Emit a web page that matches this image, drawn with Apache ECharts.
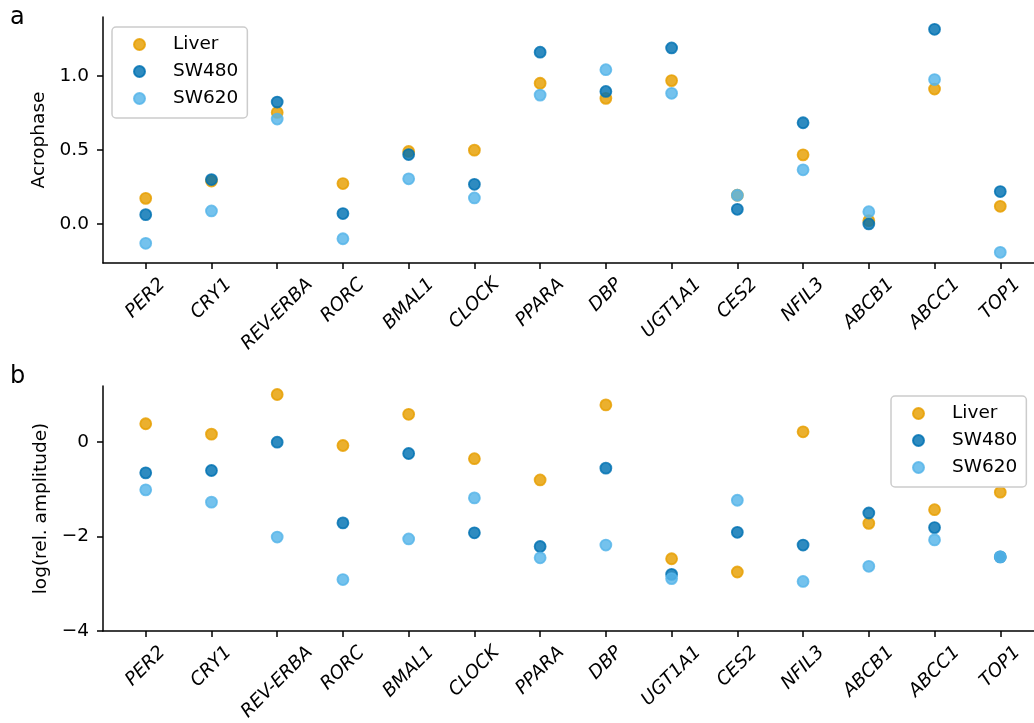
<!DOCTYPE html>
<html>
<head>
<meta charset="utf-8">
<script src="https://cdn.jsdelivr.net/npm/echarts@6/dist/echarts.min.js"></script>
<style>
  html, body { margin: 0; padding: 0; background: #fff; }
  #chart { width: 1034px; height: 723px; }
</style>
</head>
<body>
<div id="chart"></div>
<script>
// Genes shown on both panels
const genes = ['PER2', 'CRY1', 'REV-ERBA', 'RORC', 'BMAL1', 'CLOCK', 'PPARA', 'DBP',
               'UGT1A1', 'CES2', 'NFIL3', 'ABCB1', 'ABCC1', 'TOP1'];
const tissues = ['Liver', 'SW480', 'SW620'];

// Panel a: acrophase
const acroLiver = [0.173, 0.29, 0.754, 0.273, 0.490, 0.499, 0.951, 0.849, 0.969, 0.194, 0.467, 0.022, 0.912, 0.119];
const acroSW480 = [0.063, 0.30, 0.824, 0.070, 0.469, 0.268, 1.161, 0.896, 1.190, 0.099, 0.684, 0.0, 1.316, 0.219];
const acroSW620 = [-0.131, 0.088, 0.709, -0.100, 0.305, 0.176, 0.871, 1.043, 0.883, 0.194, 0.366, 0.083, 0.976, -0.192];

// Panel b: log relative amplitude
const ampLiver = [0.39, 0.17, 1.01, -0.07, 0.59, -0.35, -0.80, 0.79, -2.47, -2.75, 0.22, -1.72, -1.43, -1.06];
const ampSW480 = [-0.65, -0.60, 0.0, -1.71, -0.24, -1.92, -2.21, -0.55, -2.80, -1.91, -2.18, -1.50, -1.81, -2.43];
const ampSW620 = [-1.01, -1.27, -2.01, -2.91, -2.05, -1.18, -2.45, -2.18, -2.89, -1.23, -2.95, -2.63, -2.07, -2.43];

// Tick values
const acroTicks = [0, 0.5, 1.0];
const ampTicks = [-4, -2, 0];

const colors = { Liver: '#E69F00', SW480: '#0072B2', SW620: '#56B4E9' };
const FONT = '"DejaVu Sans", sans-serif';
const FS = 18.5;
const LH = 21.5;

// Plot geometry: categories sit one unit apart with a 0.65 unit margin on each side.
const X_MIN = -0.65, X_MAX = 13.65;
const PLOT_LEFT = 103, PLOT_WIDTH = 940;
const UNIT = PLOT_WIDTH / (X_MAX - X_MIN);
// Label strip: a category axis whose band centres coincide with the integer ticks.
const LABEL_LEFT = PLOT_LEFT + (-0.5 - X_MIN) * UNIT;
const LABEL_WIDTH = genes.length * UNIT;

// Rotated gene labels: each label's box is centred on its tick and hangs
// from a common top line, so longer names sit lower.
const measure = document.createElement('canvas').getContext('2d');
measure.font = 'italic ' + FS + 'px "DejaVu Sans"';
const rich = {};
genes.forEach((g, i) => {
  const w = measure.measureText(g).width;
  const d = (w + LH) / (2 * Math.SQRT2);
  const p = Math.SQRT2 * d;
  rich['g' + i] = {
    padding: [p, p, 0, 0], fontStyle: 'italic', fontSize: FS,
    fontFamily: FONT, lineHeight: LH, color: '#000'
  };
});
const geneIdx = genes.map((_, i) => i);

const minus = s => String(s).replace('-', '\u2212');

function xAxisFor(gridIndex) {
  return {
    type: 'value', gridIndex, min: X_MIN, max: X_MAX,
    splitLine: { show: false },
    axisLine: { onZero: false, lineStyle: { color: '#000', width: 1.5 } },
    axisTick: { customValues: geneIdx, length: 6, lineStyle: { color: '#000', width: 1.5 } },
    axisLabel: { show: false }
  };
}

function labelAxisFor(gridIndex) {
  return {
    type: 'category', gridIndex, data: genes, boundaryGap: true,
    axisLine: { show: false }, axisTick: { show: false }, splitLine: { show: false },
    axisLabel: {
      interval: 0, rotate: 45, align: 'center', verticalAlign: 'middle',
      margin: 11, rich, showMinLabel: true, showMaxLabel: true, hideOverlap: false,
      formatter: (v, i) => '{g' + i + '|' + v + '}'
    }
  };
}

function yAxisFor(gridIndex, min, max, ticks, name, nameGap, fmt) {
  return {
    type: 'value', gridIndex, min, max, name, nameLocation: 'middle', nameGap,
    nameTextStyle: { fontSize: FS, fontFamily: FONT, color: '#000' },
    splitLine: { show: false },
    axisLine: { show: true, onZero: false, lineStyle: { color: '#000', width: 1.5 } },
    axisTick: { show: true, customValues: ticks, length: 6, lineStyle: { color: '#000', width: 1.5 } },
    axisLabel: {
      customValues: ticks, margin: 14, fontSize: FS, fontFamily: FONT, color: '#000',
      showMinLabel: true, showMaxLabel: true, formatter: fmt
    }
  };
}

function hiddenY(gridIndex) {
  return { type: 'value', gridIndex, show: false, min: 0, max: 1 };
}

function scatter(name, values, idx) {
  return {
    name, type: 'scatter', xAxisIndex: idx, yAxisIndex: idx,
    data: values.map((v, i) => [i, v]),
    symbolSize: 11,
    itemStyle: { color: colors[name], borderColor: colors[name], borderWidth: 1.8, opacity: 0.82 },
    emphasis: { disabled: true }
  };
}

function legendAt(left, top) {
  return {
    data: tissues, orient: 'vertical', left, top,
    itemWidth: 11, itemHeight: 11, itemGap: 8, icon: 'circle',
    padding: [8, 9, 10, 21],
    backgroundColor: 'rgba(255,255,255,0.8)', borderColor: '#cccccc', borderWidth: 1.5, borderRadius: 4,
    textStyle: { fontSize: FS, fontFamily: FONT, color: '#000', lineHeight: 15, padding: [0, 0, 0, 23] }
  };
}

const chart = echarts.init(document.getElementById('chart'));
chart.setOption({
  animation: false,
  backgroundColor: '#fff',
  grid: [
    { left: PLOT_LEFT, top: 17, width: PLOT_WIDTH, height: 246, outerBoundsMode: 'none' },
    { left: PLOT_LEFT, top: 386, width: PLOT_WIDTH, height: 245, outerBoundsMode: 'none' },
    { left: LABEL_LEFT, top: 17, width: LABEL_WIDTH, height: 246, outerBoundsMode: 'none' },
    { left: LABEL_LEFT, top: 386, width: LABEL_WIDTH, height: 245, outerBoundsMode: 'none' }
  ],
  xAxis: [xAxisFor(0), xAxisFor(1), labelAxisFor(2), labelAxisFor(3)],
  yAxis: [
    yAxisFor(0, -0.264, 1.399, acroTicks, 'Acrophase', 53, v => minus(v.toFixed(1))),
    yAxisFor(1, -4, 1.19, ampTicks, 'log(rel. amplitude)', 49, v => minus(Math.round(v))),
    hiddenY(2), hiddenY(3)
  ],
  legend: [legendAt(112, 27), legendAt(891, 396)],
  graphic: [
    { type: 'text', left: 10, top: 6, style: { text: 'a', fontSize: 24, fontFamily: FONT, fill: '#000' } },
    { type: 'text', left: 10, top: 365, style: { text: 'b', fontSize: 24, fontFamily: FONT, fill: '#000' } }
  ],
  series: [
    scatter('Liver', acroLiver, 0), scatter('SW480', acroSW480, 0), scatter('SW620', acroSW620, 0),
    scatter('Liver', ampLiver, 1), scatter('SW480', ampSW480, 1), scatter('SW620', ampSW620, 1)
  ]
});
</script>
</body>
</html>
